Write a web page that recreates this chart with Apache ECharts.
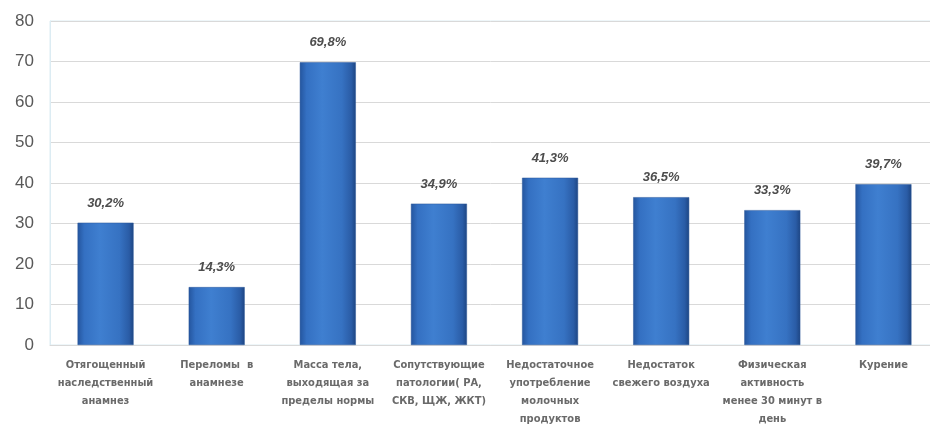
<!DOCTYPE html>
<html>
<head>
<meta charset="utf-8">
<script src="https://cdn.jsdelivr.net/npm/echarts@6/dist/echarts.min.js"></script>
<style>html,body{margin:0;padding:0;background:#fff;}#c{width:930px;height:426px;}</style>
</head>
<body>
<div id="c"></div>
<script>
const categories = [
  "Отягощенный\nнаследственный\nанамнез",
  "Переломы  в\nанамнезе",
  "Масса тела,\nвыходящая за\nпределы нормы",
  "Сопутствующие\nпатологии( РА,\nСКВ, ЩЖ, ЖКТ)",
  "Недостаточное\nупотребление\nмолочных\nпродуктов",
  "Недостаток\nсвежего воздуха",
  "Физическая\nактивность\nменее 30 минут в\nдень",
  "Курение"
];
const values = [30.2, 14.3, 69.8, 34.9, 41.3, 36.5, 33.3, 39.7];
const yTicks = [0, 10, 20, 30, 40, 50, 60, 70, 80];

const chart = echarts.init(document.getElementById('c'), null, {renderer: 'canvas'});
chart.setOption({
  animation: false,
  backgroundColor: '#ffffff',
  grid: {left: 50, right: -9, top: 21, bottom: 81, outerBoundsMode: 'none', containLabel: false,
         show: true, borderColor: '#dcecf3', borderWidth: 1},
  xAxis: {
    type: 'category',
    data: categories,
    axisTick: {show: false},
    axisLine: {show: true, lineStyle: {color: '#d9d9d9', width: 1}},
    axisLabel: {
      interval: 0, margin: 11, color: '#6a6a6a', fontSize: 11, fontWeight: 'bold',
      fontFamily: '"DejaVu Sans Condensed", "DejaVu Sans", sans-serif', lineHeight: 18
    }
  },
  yAxis: {
    type: 'value', min: yTicks[0], max: yTicks[yTicks.length - 1], interval: 10,
    axisLine: {show: true, lineStyle: {color: '#dcecf3'}},
    axisTick: {show: false},
    splitLine: {lineStyle: {color: '#d9d9d9', width: 1}},
    axisLabel: {color: '#595959', fontSize: 17, margin: 16, fontFamily: '"Liberation Sans", Arial, sans-serif'}
  },
  series: [{
    type: 'bar',
    data: values,
    barWidth: 56,
    itemStyle: {
      color: {
        type: 'linear', x: 0, y: 0, x2: 1, y2: 0,
        colorStops: [
          {offset: 0, color: '#24559e'},
          {offset: 0.12, color: '#3470c2'},
          {offset: 0.4, color: '#3f7fd0'},
          {offset: 0.75, color: '#3672c2'},
          {offset: 0.92, color: '#2a5ca6'},
          {offset: 1, color: '#1d4582'}
        ]
      },
      borderColor: '#2a5699', borderWidth: 0.5
    },
    label: {
      show: true, position: 'top', distance: 13,
      color: '#4d4d4d', fontSize: 13, fontWeight: 'bold', fontStyle: 'italic',
      fontFamily: '"Liberation Sans", Arial, sans-serif',
      formatter: p => String(p.value).replace('.', ',') + '%'
    }
  }]
});
</script>
</body>
</html>
